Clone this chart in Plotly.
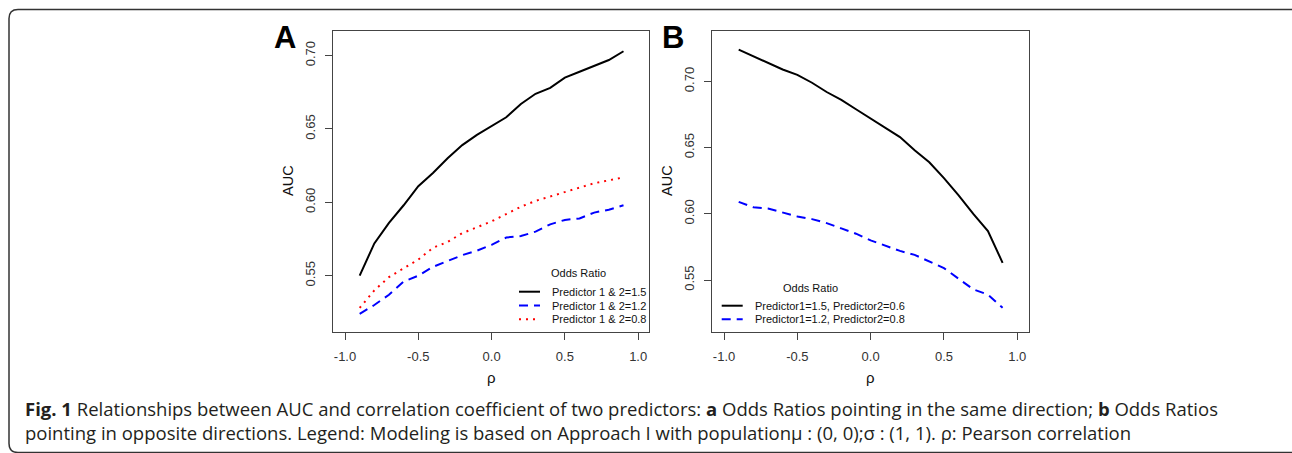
import plotly.graph_objects as go

# ---------------- data ----------------
rho = [-0.9, -0.8, -0.7, -0.6, -0.5, -0.4, -0.3, -0.2, -0.1, 0.0,
       0.1, 0.2, 0.3, 0.4, 0.5, 0.6, 0.7, 0.8, 0.9]

a_or15 = [0.550, 0.572, 0.586, 0.598, 0.611, 0.620, 0.630, 0.639, 0.646, 0.652,
          0.658, 0.667, 0.674, 0.678, 0.685, 0.689, 0.693, 0.697, 0.703]
a_or12 = [0.524, 0.530, 0.537, 0.546, 0.550, 0.556, 0.560, 0.564, 0.567, 0.571,
          0.576, 0.577, 0.580, 0.585, 0.588, 0.589, 0.593, 0.595, 0.598]
a_or08 = [0.528, 0.540, 0.549, 0.555, 0.561, 0.569, 0.573, 0.579, 0.583, 0.587,
          0.592, 0.597, 0.601, 0.604, 0.607, 0.610, 0.613, 0.615, 0.617]

b_or15_06 = [0.724, 0.719, 0.714, 0.709, 0.705, 0.699, 0.692, 0.686, 0.679, 0.672,
             0.665, 0.658, 0.648, 0.639, 0.627, 0.614, 0.600, 0.587, 0.563]
b_or12_08 = [0.609, 0.605, 0.604, 0.601, 0.598, 0.596, 0.593, 0.589, 0.585, 0.580,
             0.576, 0.572, 0.569, 0.564, 0.559, 0.551, 0.543, 0.539, 0.529]

names_a = ["Predictor 1 & 2=1.5", "Predictor 1 & 2=1.2", "Predictor 1 & 2=0.8"]
names_b = ["Predictor1=1.5, Predictor2=0.6", "Predictor1=1.2, Predictor2=0.8"]
legend_title = "Odds Ratio"

x_tickvals = [-1.0, -0.5, 0.0, 0.5, 1.0]
x_ticktext = ["-1.0", "-0.5", "0.0", "0.5", "1.0"]
y_tickvals = [0.55, 0.60, 0.65, 0.70]
y_ticktext = ["0.55", "0.60", "0.65", "0.70"]

caption1 = ("<b>Fig. 1</b> Relationships between AUC and correlation coefficient of two predictors: "
            "<b>a</b> Odds Ratios pointing in the same direction; <b>b</b> Odds Ratios")
caption2 = ("pointing in opposite directions. Legend: Modeling is based on Approach I with "
            "populationμ : (0, 0);σ : (1, 1). ρ: Pearson correlation")

# ---------------- styles ----------------
W, H = 1292, 453
FONT = "Liberation Sans, Arial, sans-serif"
BLACK = dict(color="black", width=2, dash="solid")
BLUE = dict(color="#0000FF", width=2, dash="9px,6px")
RED = dict(color="#FF0000", width=2, dash="2px,5px")


def px(x):
    return x / W


def py(y):
    return 1 - y / H


fig = go.Figure()

fig.add_trace(go.Scatter(x=rho, y=a_or15, mode="lines", line=BLACK, name=names_a[0],
                         xaxis="x", yaxis="y", showlegend=False))
fig.add_trace(go.Scatter(x=rho, y=a_or12, mode="lines", line=BLUE, name=names_a[1],
                         xaxis="x", yaxis="y", showlegend=False))
fig.add_trace(go.Scatter(x=rho, y=a_or08, mode="lines", line=RED, name=names_a[2],
                         xaxis="x", yaxis="y", showlegend=False))
fig.add_trace(go.Scatter(x=rho, y=b_or15_06, mode="lines", line=BLACK, name=names_b[0],
                         xaxis="x2", yaxis="y2", showlegend=False))
fig.add_trace(go.Scatter(x=rho, y=b_or12_08, mode="lines", line=BLUE, name=names_b[1],
                         xaxis="x2", yaxis="y2", showlegend=False))

ydom = [py(331.7), py(30.7)]
axis_common = dict(showline=True, linecolor="#444", linewidth=1, mirror=True,
                   ticks="outside", ticklen=7, tickcolor="#444", tickwidth=1,
                   showgrid=False, zeroline=False,
                   tickfont=dict(family=FONT, size=13, color="#333"))

fig.update_layout(
    width=W, height=H,
    margin=dict(l=0, r=0, t=0, b=0),
    paper_bgcolor="white", plot_bgcolor="white",
    font=dict(family=FONT, color="black"),
    xaxis=dict(domain=[px(332.7), px(649.3)], range=[-1.084, 1.076],
               tickvals=x_tickvals, ticktext=x_ticktext, ticklabelstandoff=6,
               anchor="y", **axis_common),
    yaxis=dict(domain=ydom, range=[0.5118, 0.717],
               tickvals=y_tickvals, ticktext=y_ticktext, tickangle=-90,
               ticklabelstandoff=5, anchor="x", **axis_common),
    xaxis2=dict(domain=[px(712), px(1029.3)], range=[-1.082, 1.082],
                tickvals=x_tickvals, ticktext=x_ticktext, ticklabelstandoff=6,
                anchor="y2", **axis_common),
    yaxis2=dict(domain=ydom, range=[0.511, 0.7383],
                tickvals=y_tickvals, ticktext=y_ticktext, tickangle=-90,
                ticklabelstandoff=5, anchor="x2", **axis_common),
)

ann = []
shapes = []

# panel letters
ann.append(dict(x=px(285), y=py(37.5), text="<b>A</b>", font=dict(family=FONT, size=31, color="black")))
ann.append(dict(x=px(673), y=py(37.5), text="<b>B</b>", font=dict(family=FONT, size=31, color="black")))
# axis titles
for xc in (288, 667):
    ann.append(dict(x=px(xc), y=py(181), text="AUC", textangle=-90,
                    font=dict(family=FONT, size=14.5, color="#111")))
for xc in (491, 870.6):
    ann.append(dict(x=px(xc), y=py(377), text="ρ",
                    font=dict(family=FONT, size=15, color="#111")))

# legend A (no box, as in R bty="n")
LEGFONT = dict(family=FONT, size=11, color="#111")
ann.append(dict(x=px(578), y=py(273), text=legend_title, font=LEGFONT))
for name, style, yy in zip(names_a, [BLACK, BLUE, RED], [291.7, 305.5, 319.3]):
    shapes.append(dict(type="line", xref="paper", yref="paper",
                       x0=px(519), x1=px(540), y0=py(yy), y1=py(yy), line=style))
    ann.append(dict(x=px(550), y=py(yy), text=name, xanchor="left", font=LEGFONT))

# legend B
ann.append(dict(x=px(810), y=py(287.5), text=legend_title, font=LEGFONT))
for name, style, yy in zip(names_b, [BLACK, BLUE], [305.7, 319.3]):
    shapes.append(dict(type="line", xref="paper", yref="paper",
                       x0=px(721.7), x1=px(742.7), y0=py(yy), y1=py(yy), line=style))
    ann.append(dict(x=px(752.7), y=py(yy), text=name, xanchor="left", font=LEGFONT))

# caption (two lines in one block)
CAPFONT = dict(family="Open Sans, sans-serif", size=18.5, color="#231f20")
ann.append(dict(x=px(23), y=py(420), text=caption1 + "<br>" + caption2,
                xanchor="left", align="left", font=CAPFONT))

for a in ann:
    a.setdefault("xref", "paper")
    a.setdefault("yref", "paper")
    a.setdefault("xanchor", "center")
    a.setdefault("yanchor", "middle")
    a.setdefault("showarrow", False)

# outer rounded frame
x0, x1, y0, y1, r = 9, 1300, 9.5, 452.5, 9
path = (f"M {px(x0)},{py(y0 + r)} Q {px(x0)},{py(y0)} {px(x0 + r)},{py(y0)} "
        f"L {px(x1 - r)},{py(y0)} Q {px(x1)},{py(y0)} {px(x1)},{py(y0 + r)} "
        f"L {px(x1)},{py(y1 - r)} Q {px(x1)},{py(y1)} {px(x1 - r)},{py(y1)} "
        f"L {px(x0 + r)},{py(y1)} Q {px(x0)},{py(y1)} {px(x0)},{py(y1 - r)} Z")
shapes.append(dict(type="path", xref="paper", yref="paper", path=path,
                   line=dict(color="#333", width=1.5)))

fig.update_layout(annotations=ann, shapes=shapes)

fig.write_html("out.html")
